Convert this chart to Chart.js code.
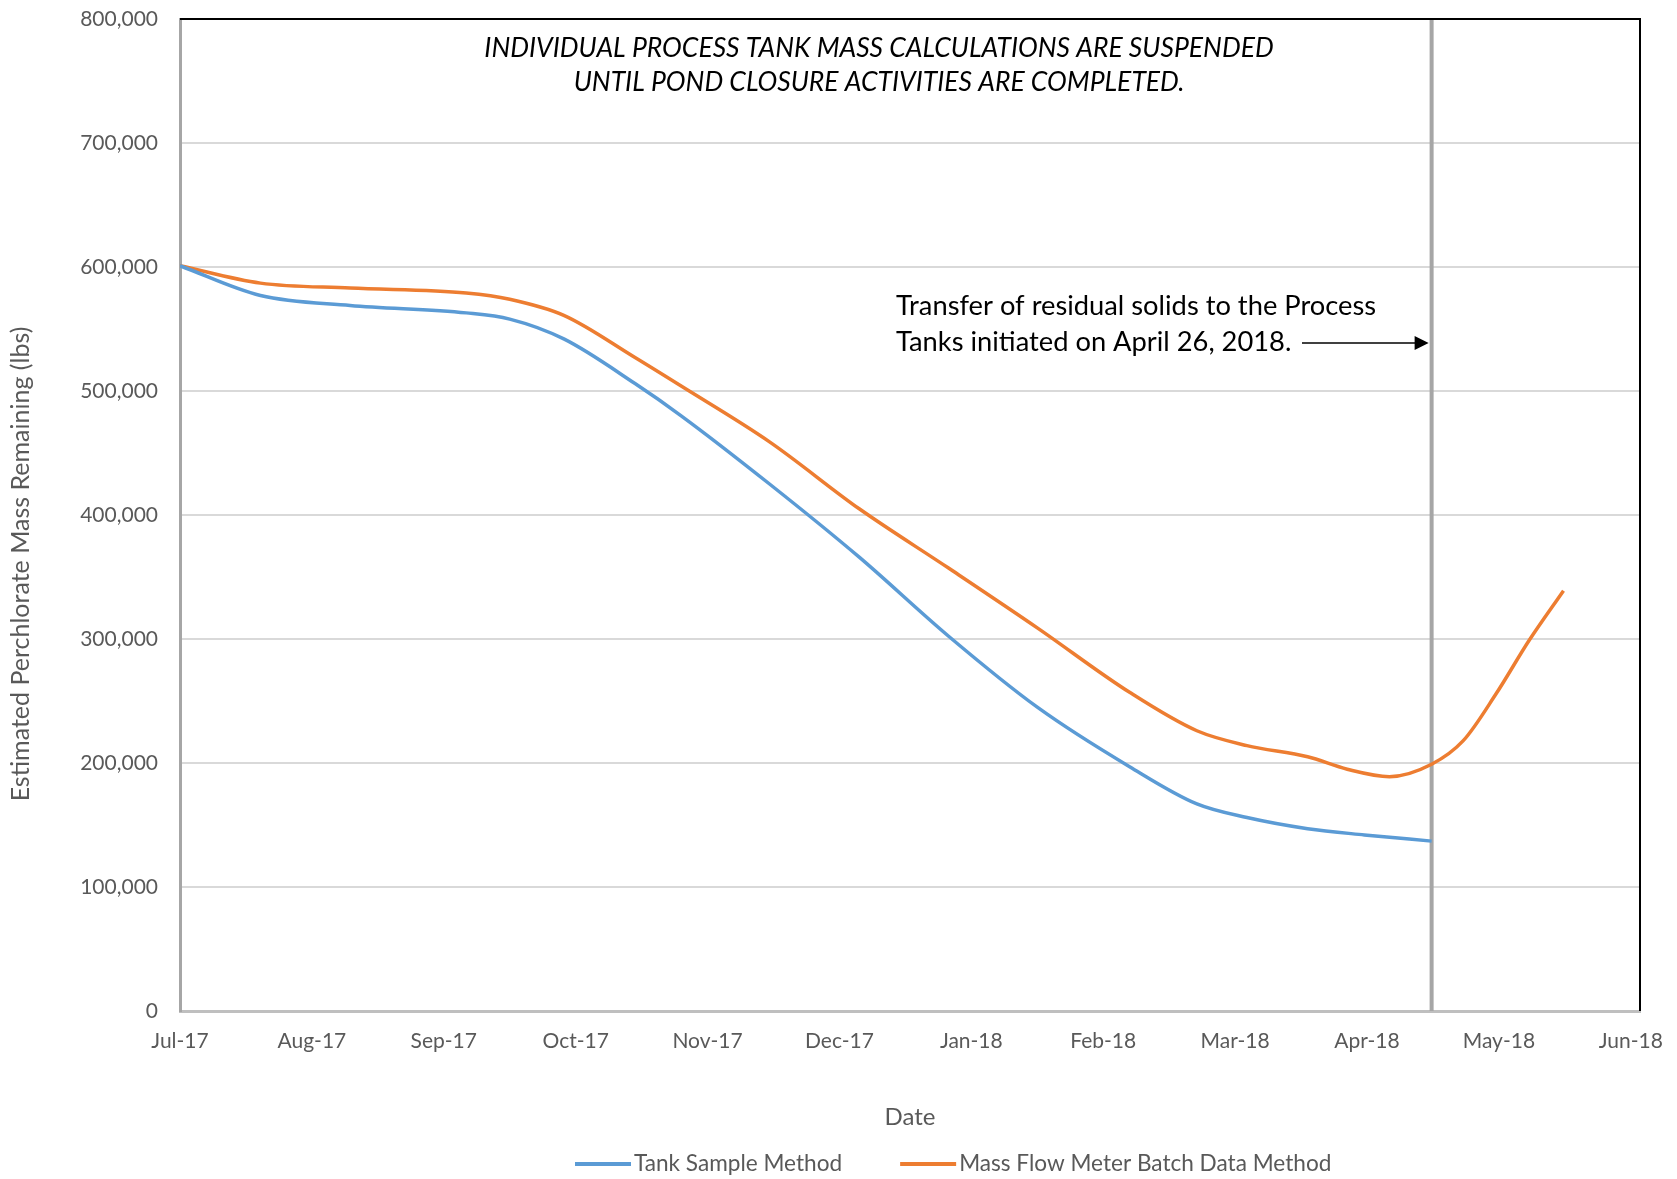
<!DOCTYPE html>
<html lang="en">

<head>
    <meta charset="UTF-8">
    <script src="https://cdn.jsdelivr.net/npm/chart.js"></script>
    <title>Perchlorate Mass Remaining</title>
    <style>
        body {
            margin: 0;
            background: #ffffff;
        }
    </style>
</head>

<body>
    <canvas id="graficoMassa" width="1677" height="1179"></canvas>
</body>

</html>

<script>
    // months after Jul-17 (0 = Jul-17, 1 = Aug-17, ...)
    const monthLabels = ['Jul-17', 'Aug-17', 'Sep-17', 'Oct-17', 'Nov-17', 'Dec-17',
        'Jan-18', 'Feb-18', 'Mar-18', 'Apr-18', 'May-18', 'Jun-18'];

    const tankMonths = [0, 0.61, 1.29, 2.17, 2.5, 2.91, 3.45, 3.8, 4.47, 5.15, 5.83,
        6.5, 7.2, 7.71, 8.09, 8.55, 8.98, 9.49];
    const tankMass = [601000, 577000, 569000, 563000, 558000, 542000, 506000, 480000, 425000, 366000, 302000,
        245000, 197000, 167000, 156000, 147000, 142000, 137000];

    const meterMonths = [0, 0.61, 1.29, 2.17, 2.5, 2.91, 3.45, 3.8, 4.47, 5.15, 5.83, 6.5,
        7.2, 7.71, 8.09, 8.55, 8.85, 9.17, 9.49, 9.73, 9.98, 10.23, 10.49];
    const meterMass = [601000, 587000, 583000, 579000, 574000, 561000, 527000, 504000, 459000, 405000, 357000, 309000,
        257000, 226000, 214000, 205000, 195000, 189000, 199000, 218000, 256000, 299000, 339000];

    const transferMonth = 9.49; // April 26, 2018

    const textoColor = '#595959';

    function pontos(xs, ys) {
        return xs.map((x, i) => ({ x: x, y: ys[i] }));
    }

    // borda preta, linha vertical, textos e legenda
    const extras = {
        id: 'extras',
        beforeDatasetsDraw(chart) {
            const ctx = chart.ctx;
            const area = chart.chartArea;
            const x = chart.scales.x.getPixelForValue(transferMonth);
            ctx.save();
            ctx.strokeStyle = '#a6a6a6';
            ctx.lineWidth = 4;
            ctx.beginPath();
            ctx.moveTo(x, area.top);
            ctx.lineTo(x, area.bottom);
            ctx.stroke();
            ctx.restore();
        },
        afterDraw(chart) {
            const ctx = chart.ctx;
            const area = chart.chartArea;
            const xLinha = chart.scales.x.getPixelForValue(transferMonth);
            ctx.save();
            ctx.strokeStyle = '#000000';
            ctx.lineWidth = 2;
            ctx.beginPath();
            ctx.moveTo(area.left, area.top);
            ctx.lineTo(area.right, area.top);
            ctx.lineTo(area.right, area.bottom);
            ctx.stroke();

            ctx.fillStyle = '#000000';
            ctx.textBaseline = 'middle';
            ctx.textAlign = 'center';
            ctx.font = 'italic 26.5px Lato';
            ctx.fillText('INDIVIDUAL PROCESS TANK MASS CALCULATIONS ARE SUSPENDED', 879, 48);
            ctx.fillText('UNTIL POND CLOSURE ACTIVITIES ARE COMPLETED.', 879, 82);

            ctx.textAlign = 'left';
            ctx.font = '27.3px Lato';
            ctx.fillText('Transfer of residual solids to the Process', 896, 306);
            ctx.fillText('Tanks initiated on April 26, 2018.', 896, 342);

            // seta
            ctx.lineWidth = 1.5;
            ctx.beginPath();
            ctx.moveTo(1302, 343);
            ctx.lineTo(xLinha - 14, 343);
            ctx.stroke();
            ctx.beginPath();
            ctx.moveTo(xLinha - 3, 343);
            ctx.lineTo(xLinha - 17, 336);
            ctx.lineTo(xLinha - 17, 350);
            ctx.closePath();
            ctx.fill();

            // titulo do eixo y
            ctx.save();
            ctx.translate(21, 564);
            ctx.rotate(-Math.PI / 2);
            ctx.textAlign = 'center';
            ctx.fillStyle = textoColor;
            ctx.font = '25px Lato';
            ctx.fillText('Estimated Perchlorate Mass Remaining (lbs)', 0, 0);
            ctx.restore();

            // legenda
            ctx.font = '22.6px Lato';
            ctx.textAlign = 'left';
            let x = 575;
            const y = 1164;
            chart.data.datasets.forEach((ds) => {
                ctx.strokeStyle = ds.borderColor;
                ctx.lineWidth = 4;
                ctx.beginPath();
                ctx.moveTo(x, y);
                ctx.lineTo(x + 56, y);
                ctx.stroke();
                ctx.fillStyle = textoColor;
                ctx.fillText(ds.label, x + 59, y);
                x += 59 + ctx.measureText(ds.label).width + 58;
            });
            ctx.restore();
        }
    };

    const config = {
        type: 'line',
        data: {
            datasets: [{
                label: 'Tank Sample Method',
                data: pontos(tankMonths, tankMass),
                borderColor: '#5b9bd5',
                backgroundColor: '#5b9bd5',
                borderWidth: 3.5,
                pointRadius: 0,
                cubicInterpolationMode: 'monotone'
            }, {
                label: 'Mass Flow Meter Batch Data Method',
                data: pontos(meterMonths, meterMass),
                borderColor: '#ed7d31',
                backgroundColor: '#ed7d31',
                borderWidth: 3.5,
                pointRadius: 0,
                cubicInterpolationMode: 'monotone'
            }]
        },
        options: {
            responsive: false,
            animation: false,
            layout: {
                padding: { top: 19, right: 37, left: 4, bottom: 0 }
            },
            plugins: {
                legend: { display: false },
                tooltip: { enabled: false }
            },
            scales: {
                x: {
                    type: 'linear',
                    min: 0,
                    max: 11.07,
                    afterFit: (scale) => { scale.height = 168; },
                    grid: {
                        color: 'rgba(0,0,0,0)',
                        drawOnChartArea: false,
                        drawTicks: true,
                        tickLength: 18
                    },
                    border: { color: '#bfbfbf', width: 3 },
                    ticks: {
                        stepSize: 1,
                        includeBounds: false,
                        padding: 0,
                        maxRotation: 0,
                        autoSkip: false,
                        color: textoColor,
                        font: { size: 21, family: 'Lato' },
                        callback: (value) => monthLabels[value]
                    },
                    title: {
                        display: true,
                        text: 'Date',
                        color: textoColor,
                        padding: { top: 4, bottom: 47 },
                        font: { size: 24, family: 'Lato' }
                    }
                },
                y: {
                    min: 0,
                    max: 800000,
                    afterFit: (scale) => { scale.width = 176; },
                    grid: {
                        color: '#d9d9d9',
                        lineWidth: 2,
                        drawTicks: true,
                        tickLength: 20,
                        tickColor: 'rgba(0,0,0,0)'
                    },
                    border: { color: '#a6a6a6', width: 3 },
                    ticks: {
                        stepSize: 100000,
                        padding: 2,
                        color: textoColor,
                        font: { size: 21, family: 'Lato' },
                        callback: (value) => value.toLocaleString('en-US')
                    }
                }
            }
        },
        plugins: [extras]
    };

    new Chart(document.getElementById('graficoMassa').getContext('2d'), config);
</script>
